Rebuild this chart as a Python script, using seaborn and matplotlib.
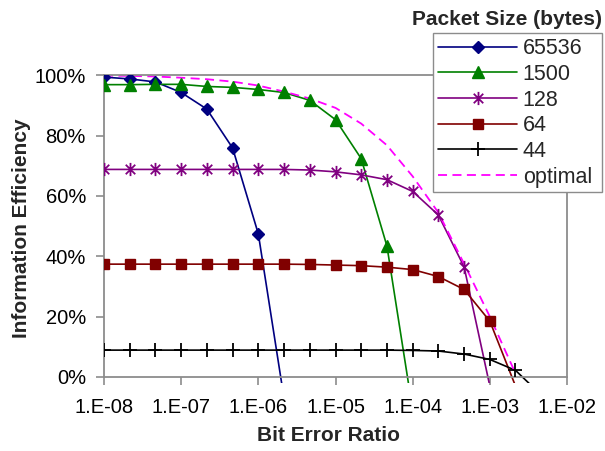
import matplotlib
matplotlib.use("Agg")
import matplotlib.pyplot as plt
from matplotlib.lines import Line2D
from matplotlib.path import Path
import seaborn as sns

# Bit error ratio sample points (one-third decade steps)
ber = [1.0e-8, 2.15e-8, 4.64e-8, 1.0e-7, 2.15e-7, 4.64e-7,
       1.0e-6, 2.15e-6, 4.64e-6, 1.0e-5, 2.15e-5, 4.64e-5,
       1.0e-4, 2.15e-4, 4.64e-4, 1.0e-3, 2.15e-3, 4.64e-3]

# Information efficiency (%) for each packet size; the last point of each
# series lies below zero, so the curve runs off the bottom of the plot
eff_65536 = [99.4, 98.8, 97.8, 94.3, 88.8, 75.9, 47.4, -7.0]
eff_1500 = [96.9, 96.9, 97.0, 97.0, 96.3, 96.0, 95.3, 94.3, 91.7, 85.3,
            72.4, 43.4, -11.0]
eff_128 = [68.8, 68.8, 68.8, 68.8, 68.8, 68.8, 68.8, 68.8, 68.6, 68.0,
           67.0, 65.4, 61.5, 53.7, 36.5, -3.0]
eff_64 = [37.4, 37.4, 37.4, 37.4, 37.4, 37.4, 37.4, 37.4, 37.3, 37.1,
          36.9, 36.4, 35.6, 33.3, 29.0, 18.5, -3.0]
eff_44 = [8.9, 8.9, 8.9, 8.9, 8.9, 8.9, 8.9, 8.9, 8.9, 8.9,
          8.9, 8.9, 8.8, 8.6, 7.6, 5.8, 2.2, -6.0]
eff_optimal = [99.9, 99.8, 99.6, 99.2, 98.7, 97.9, 96.6, 94.6, 92.3, 89.2,
               84.0, 76.8, 66.5, 54.5, 37.5, 20.0, 1.2]

series_labels = ["65536", "1500", "128", "64", "44", "optimal"]

x_tick_values = [1e-8, 1e-7, 1e-6, 1e-5, 1e-4, 1e-3, 1e-2]
x_tick_labels = ["1.E-08", "1.E-07", "1.E-06", "1.E-05", "1.E-04", "1.E-03", "1.E-02"]
y_tick_values = [0, 20, 40, 60, 80, 100]
y_tick_labels = ["0%", "20%", "40%", "60%", "80%", "100%"]

sns.set_theme(style="white")
plt.rcParams["font.family"] = ["Liberation Sans", "DejaVu Sans"]

W, H = 605, 451
fig = plt.figure(figsize=(W / 100, H / 100), dpi=100)
ax = fig.add_axes([104 / W, (H - 383) / H, 463 / W, (383 - 75.3) / H])

# asterisk marker: vertical bar plus an X
star = Path([(0, -1), (0, 1), (-0.72, -0.72), (0.72, 0.72), (-0.72, 0.72), (0.72, -0.72)],
            [Path.MOVETO, Path.LINETO] * 3)

styles = [
    (eff_65536, "#000080", "D", 6.5, "#000080", 1.0),
    (eff_1500, "#008000", "^", 8.4, "#008000", 1.0),
    (eff_128, "#800080", star, 9.5, "none", 1.3),
    (eff_64, "#800000", "s", 7.8, "#800000", 1.0),
    (eff_44, "#000000", "+", 10.5, "#000000", 1.3),
]

handles = []
for values, color, marker, ms, mfc, mew in styles:
    xs = ber[:len(values)]
    sns.lineplot(x=xs, y=values, ax=ax, color=color, lw=1.2, sort=False,
                 estimator=None, errorbar=None, zorder=2)
    px = [x for x, y in zip(xs, values) if y >= 0]
    py = [y for y in values if y >= 0]
    ax.plot(px, py, ls="none", marker=marker, ms=ms, mfc=mfc, mec=color,
            mew=mew, zorder=3)
    handles.append(Line2D([], [], color=color, lw=1.2, marker=marker, ms=ms,
                          mfc=mfc, mec=color, mew=mew))

sns.lineplot(x=ber[:len(eff_optimal)], y=eff_optimal, ax=ax, color="#FF00FF",
             lw=1.3, linestyle=(0, (5, 3)), sort=False, estimator=None,
             errorbar=None, zorder=2.5)
handles.append(Line2D([], [], color="#FF00FF", lw=1.3, linestyle=(0, (5, 3))))

ax.set_xscale("log")
ax.set_xlim(1e-8, 1e-2)
ax.set_ylim(-2, 100)
ax.set_xticks(x_tick_values)
ax.set_xticklabels(x_tick_labels)
ax.minorticks_off()
ax.set_yticks(y_tick_values)
ax.set_yticklabels(y_tick_labels)

frame_gray = "#8c8c8c"
for s in ax.spines.values():
    s.set_color(frame_gray)
    s.set_linewidth(1.3)
ax.spines["bottom"].set_position(("data", 0))
ax.spines["left"].set_bounds(0, 100)
ax.spines["right"].set_bounds(0, 100)

ax.tick_params(axis="both", which="major", direction="out", length=6, width=1.2,
               color=frame_gray, labelsize=14.5, labelcolor="black",
               bottom=True, left=True)
ax.tick_params(axis="x", pad=9)
ax.tick_params(axis="y", pad=7)

ax.set_xlabel("Bit Error Ratio", fontsize=15, fontweight="bold", va="center")
ax.xaxis.set_label_coords(0.484, -0.172)
ax.set_ylabel("Information Efficiency", fontsize=15, fontweight="bold", va="center")
ax.yaxis.set_label_coords(-0.178, 0.503)

leg = ax.legend(handles, series_labels, loc="upper left",
                bbox_to_anchor=(433 / W, 1 - 186.7 / H, 169 / W, 153.4 / H),
                bbox_transform=fig.transFigure, mode="expand", borderaxespad=0,
                frameon=True, fancybox=False, edgecolor=frame_gray, framealpha=1,
                fontsize=15.5, handlelength=3.7, handletextpad=0.25,
                labelspacing=0.22, borderpad=0.22)
leg.get_frame().set_linewidth(1.0)

fig.text(412 / W, 1 - 25 / H, "Packet Size (bytes)", fontsize=15,
         fontweight="bold", ha="left", va="baseline")

fig.savefig("out.png", dpi=100)
